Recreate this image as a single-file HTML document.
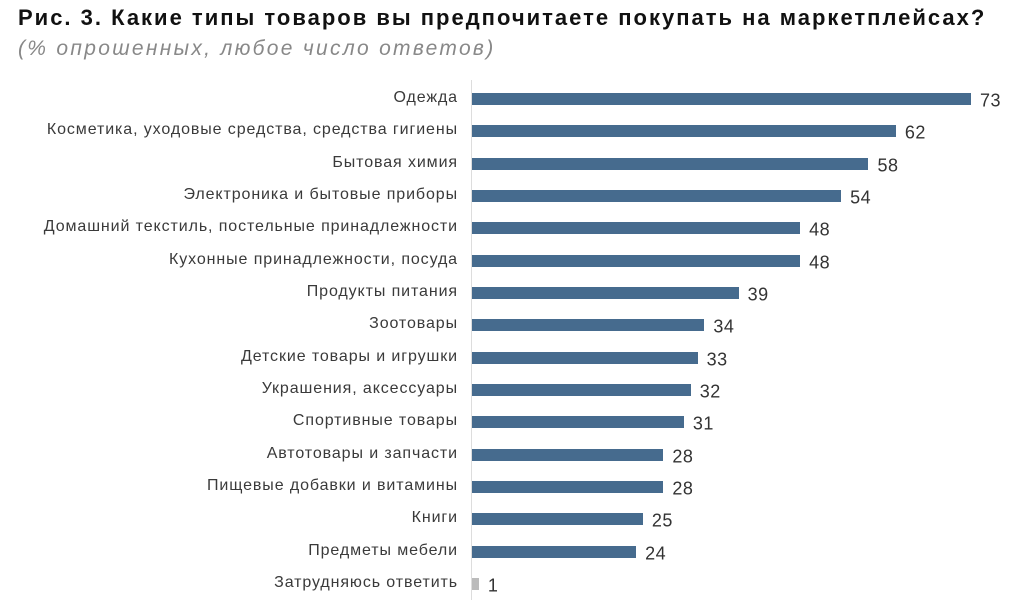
<!DOCTYPE html>
<html><head><meta charset="utf-8"><style>
body{margin:0;width:1024px;height:605px;background:#fff;font-family:"Liberation Sans","DejaVu Sans",sans-serif;position:relative;overflow:hidden}
.t{position:absolute;left:18px;top:5px;font-size:22px;font-weight:bold;color:#111;white-space:nowrap;letter-spacing:2px}
.s{position:absolute;left:18px;top:37px;font-size:21px;font-style:italic;color:#888;white-space:nowrap;letter-spacing:2.3px}
.l{position:absolute;right:566px;font-size:16px;color:#3a3a3a;white-space:nowrap;transform:translateY(-50%);letter-spacing:0.9px}
.b{position:absolute;left:472px;height:12px;background:#466b8e;transform:translateY(-50%)}
.v{position:absolute;font-size:18px;color:#333;transform:translateY(-50%);letter-spacing:0.5px}
.ax{position:absolute;left:471px;top:80px;width:1px;height:520px;background:#ddd}
</style></head><body>
<div class="t">Рис. 3. Какие типы товаров вы предпочитаете покупать на маркетплейсах?</div>
<div class="s">(% опрошенных, любое число ответов)</div>
<div class="ax"></div>
<script>
var d=[["Одежда",73],["Косметика, уходовые средства, средства гигиены",62],["Бытовая химия",58],["Электроника и бытовые приборы",54],["Домашний текстиль, постельные принадлежности",48],["Кухонные принадлежности, посуда",48],["Продукты питания",39],["Зоотовары",34],["Детские товары и игрушки",33],["Украшения, аксессуары",32],["Спортивные товары",31],["Автотовары и запчасти",28],["Пищевые добавки и витамины",28],["Книги",25],["Предметы мебели",24],["Затрудняюсь ответить",1]];
var h="";d.forEach(function(r,i){var y=98+i*32.33,w=r[1]*6.836;
h+='<div class="l" style="top:'+y+'px">'+r[0]+'</div><div class="b" style="top:'+(y+1)+'px;width:'+w+'px;'+(r[1]==1?'background:#bbb':'')+'"></div><div class="v" style="top:'+(y+3)+'px;left:'+(472+w+9)+'px">'+r[1]+'</div>';});
document.write(h);
</script>
</body></html>
